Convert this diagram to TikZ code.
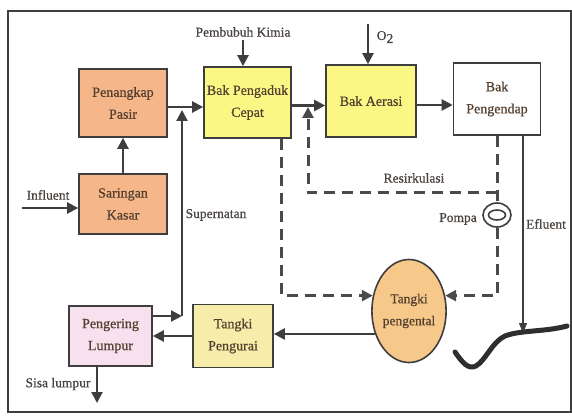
\documentclass[tikz,border=0pt]{standalone}
\usepackage{fontspec}
\setmainfont{Liberation Serif}[FakeBold=0.7]
\usetikzlibrary{arrows.meta,shapes.geometric}
\definecolor{linec}{HTML}{3E3E3E}
\definecolor{dashc}{HTML}{4A4A4A}
\definecolor{txtc}{HTML}{55402F}
\definecolor{lblc}{HTML}{4A4440}
\definecolor{orangec}{HTML}{F5B78A}
\definecolor{yellowc}{HTML}{FBF784}
\definecolor{pinkc}{HTML}{F8E1EE}
\definecolor{lyellowc}{HTML}{F7EDAA}
\definecolor{ellc}{HTML}{F6C98A}
\definecolor{wavec}{HTML}{2E2E2E}
\begin{document}
\begin{tikzpicture}[x=1pt,y=-1pt,
  every node/.style={text=lblc,font=\fontsize{13.5}{22}\selectfont},
  box/.style={draw=linec,line width=1.6pt,inner sep=0pt,align=center,text=txtc,font=\fontsize{14}{22}\selectfont},
  arr/.style={draw=linec,line width=2.2pt,-{Triangle[length=11pt,width=11pt]}},
  dasharr/.style={draw=dashc,line width=3pt,dash pattern=on 11pt off 7pt,-{Triangle[length=11pt,width=11pt]}},
  dashln/.style={draw=dashc,line width=3pt,dash pattern=on 11pt off 7pt},
  thinarr/.style={draw=linec,line width=1.2pt,-{Triangle[length=10pt,width=8pt]}}]
\useasboundingbox (0,0) rectangle (572,419);
\fill[white] (0,0) rectangle (572,419);
\draw[linec,line width=1.5pt] (8,11) rectangle (571,412);

% boxes
\node[box,fill=orangec,minimum width=88pt,minimum height=68pt] (pp) at (123,103) {Penangkap\\Pasir};
\node[box,fill=orangec,minimum width=88pt,minimum height=60pt] (sk) at (123,204) {Saringan\\Kasar};
\node[box,fill=yellowc,minimum width=87pt,minimum height=71pt] (bpc) at (247.5,102.5) {Bak Pengaduk\\Cepat};
\node[box,fill=yellowc,minimum width=90pt,minimum height=72pt] (ba) at (371,101) {Bak Aerasi};
\node[box,fill=white,minimum width=87pt,minimum height=72pt] (bp) at (497,99) {Bak\\Pengendap};
\node[box,fill=pinkc,minimum width=83pt,minimum height=60pt] (pl) at (110.5,336) {Pengering\\Lumpur};
\node[box,fill=lyellowc,minimum width=80pt,minimum height=63pt] (tpu) at (233,336) {Tangki\\Pengurai};
\node[ellipse,draw=linec,line width=1.6pt,fill=ellc,minimum width=68pt,minimum height=103pt,inner sep=0pt,align=center,text=txtc] (tp) at (409,311) {Tangki\\pengental};
\node[ellipse,draw=linec,line width=1.6pt,fill=white,minimum width=28pt,minimum height=24pt,inner sep=0pt] (pm) at (497,215) {};
\draw[linec,line width=1.6pt] (pm.center) ellipse [x radius=8.5, y radius=5];

% labels
\node (pk) at (243,32) {Pembubuh Kimia};
\node (o2) at (385,37) {O\raisebox{-3pt}{2}};
\node (inl) at (48,195) {Influent};
\node (snl) at (216,215) {Supernatan};
\node (rsl) at (414,178) {Resirkulasi};
\node (pml) at (458,219) {Pompa};
\node (efl) at (546,224) {Efluent};
\node (sll) at (58,384) {Sisa lumpur};

% coordinates
\coordinate (o2t) at (368,24);
\coordinate (inf) at (22,208);
\coordinate (s1) at (182,316);
\coordinate (s2) at (182,110);
\coordinate (rj) at (497,193);
\coordinate (rk) at (308,107);
\coordinate (sl) at (97,403);
\coordinate (ef) at (523,333);

% solid arrows
\draw[arr] (pk.south) -- (pk.south |- bpc.north);
\draw[arr] (o2t) -- (o2t |- ba.north);
\draw[arr] (inf) -- (inf -| sk.west);
\draw[arr] (sk.north) -- (pp.south);
\draw[arr] ([yshift=-4pt]pp.east) -- ([yshift=-4pt]pp.east -| bpc.west);
\draw[arr] ([yshift=-3pt]bpc.east) -- ([yshift=-3pt]bpc.east -| ba.west);
\draw[arr] ([yshift=-4pt]ba.east) -- ([yshift=-4pt]ba.east -| bp.west);
\draw[arr] ([yshift=20pt]pl.east) -- ([yshift=20pt]pl.east -| s1);
\draw[arr] (s1) -- (s2);
\draw[arr] (tp.214) -- (tp.214 -| tpu.east);
\draw[arr] (tpu.west) -- (pl.east);
\draw[arr] (sl |- pl.south) -- (sl);
\draw[thinarr] (ef |- bp.south) -- (ef);

% dashed
\draw[dashln] (bp.south) -- (pm.north);
\draw[dasharr] (rj) -| (rk);
\draw[dasharr] (pm.south) |- (tp.23);
\draw[dasharr] ([xshift=-10pt]bpc.south east) |- (tp.157);

% ground curve
\draw[wavec,line width=5pt,line cap=round] (455,352) .. controls (462,362) and (468,370) .. (476,366) .. controls (486,360) and (492,342) .. (505,336) .. controls (520,330) and (545,332) .. (567,326);
\end{tikzpicture}
\end{document}
